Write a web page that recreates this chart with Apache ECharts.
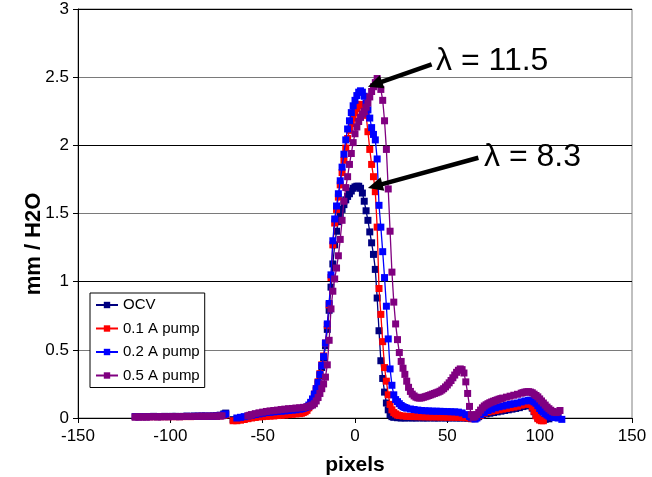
<!DOCTYPE html>
<html>
<head>
<meta charset="utf-8">
<script src="https://cdn.jsdelivr.net/npm/echarts@6/dist/echarts.min.js"></script>
<style>
  html, body { margin: 0; padding: 0; background: #fff; }
  #chart { width: 652px; height: 477px; }
</style>
</head>
<body>
<div id="chart"></div>
<script>
// Water thickness profiles across the channel, one series per pump current.
const seriesNames = ['OCV', '0.1 A pump', '0.2 A pump', '0.5 A pump'];
const seriesColors = ['#000080', '#ff0000', '#0000ff', '#800080'];

// [pixel position, mm of H2O]; null marks a break in the trace
const ocv = [
  [-119,0.010],[-117,0.010],[-115,0.011],[-113,0.010],[-111,0.011],[-109,0.012],[-107,0.010],[-105,0.011],[-103,0.012],[-101,0.011],
  [-99,0.012],[-97,0.012],[-95,0.011],[-93,0.012],[-91,0.013],[-89,0.012],[-87,0.014],[-85,0.013],[-83,0.014],[-81,0.014],
  [-79,0.013],[-77,0.015],[-75,0.017],[-73,0.021],[-71,0.030],[-70,0.036],[-68,null],
  [-66,-0.012],[-64,-0.014],[-62,-0.010],[-60,-0.006],[-58,0.000],[-56,0.005],[-54,0.010],[-52,0.014],[-50,0.018],[-48,0.020],
  [-46,0.022],[-44,0.025],[-42,0.027],[-40,0.030],[-38,0.032],[-36,0.035],[-34,0.037],[-32,0.040],[-30,0.045],[-29,0.050],
  [-28,0.055],[-27,0.062],[-26,0.070],[-25,0.085],[-24,0.100],[-23,0.128],[-22,0.160],[-21,0.200],[-20,0.250],[-19,0.310],
  [-18,0.370],[-17,0.440],[-16,0.530],[-15,0.650],[-14,0.790],[-13,0.960],[-12,1.130],[-11,1.270],[-10,1.370],[-9,1.440],
  [-8,1.490],[-7,1.530],[-6,1.565],[-5,1.600],[-4,1.625],[-3,1.645],[-2,1.665],[-1,1.685],[0,1.695],[1,1.700],
  [2,1.700],[3,1.685],[4,1.650],[5,1.590],[6,1.520],[7,1.450],[8,1.365],[9,1.285],[10,1.200],[11,1.090],
  [12,0.880],[13,0.640],[14,0.420],[15,0.290],[16,0.190],[17,0.110],[18,0.060],[19,0.025],[20,0.010],[21,0.005],
  [23,0.002],[25,0.000],[27,0.000],[29,0.001],[31,0.000],[33,0.000],[35,0.001],[37,0.000],[39,0.000],[41,0.001],
  [43,0.000],[45,0.000],[47,0.001],[49,0.000],[51,0.000],[53,0.001],[55,0.000],[57,0.000],[59,0.000],[61,-0.002],
  [63,-0.005],[65,0.000],[67,0.010],[69,0.020],[71,0.030],[73,0.035],[75,0.040],[77,0.045],[79,0.050],[81,0.055],
  [83,0.060],[85,0.065],[87,0.070],[89,0.076],[91,0.084],[93,0.090],[94,0.094],[95,0.090],[96,0.072],[97,0.046],
  [98,0.020],[99,0.002],[100,-0.010],[101,-0.015],[103,-0.010],[105,-0.006]
];

const pump01 = [
  [-119,0.008],[-117,0.008],[-115,0.009],[-113,0.008],[-111,0.009],[-109,0.010],[-107,0.009],[-105,0.009],[-103,0.010],[-101,0.009],
  [-99,0.010],[-97,0.010],[-95,0.009],[-93,0.010],[-91,0.011],[-89,0.010],[-87,0.011],[-85,0.011],[-83,0.012],[-81,0.012],
  [-79,0.011],[-77,0.012],[-75,0.013],[-73,0.015],[-71,0.020],[-70,0.024],[-68,null],
  [-66,-0.020],[-64,-0.020],[-62,-0.016],[-60,-0.011],[-58,-0.005],[-56,0.000],[-54,0.004],[-52,0.008],[-50,0.010],[-48,0.012],
  [-46,0.014],[-44,0.015],[-42,0.018],[-40,0.020],[-38,0.022],[-36,0.025],[-34,0.027],[-32,0.030],[-30,0.032],[-29,0.035],
  [-28,0.040],[-27,0.046],[-26,0.056],[-25,0.075],[-24,0.105],[-23,0.135],[-22,0.175],[-21,0.215],[-20,0.265],[-19,0.325],
  [-18,0.390],[-17,0.455],[-16,0.550],[-15,0.680],[-14,0.830],[-13,1.030],[-12,1.270],[-11,1.430],[-10,1.530],[-9,1.620],
  [-8,1.710],[-7,1.800],[-6,1.890],[-5,1.980],[-4,2.050],[-3,2.110],[-2,2.160],[-1,2.200],[0,2.240],[1,2.270],
  [2,2.290],[3,2.300],[4,2.300],[5,2.280],[6,2.220],[7,2.100],[8,1.970],[9,1.860],[10,1.770],[11,1.660],
  [12,1.400],[13,0.950],[14,0.760],[15,0.560],[16,0.370],[17,0.270],[18,0.170],[19,0.100],[20,0.060],[21,0.040],
  [22,0.030],[23,0.022],[24,0.018],[26,0.015],[28,0.012],[30,0.011],[32,0.010],[34,0.010],[36,0.009],[38,0.009],
  [40,0.008],[42,0.008],[44,0.008],[46,0.007],[48,0.007],[50,0.006],[52,0.006],[54,0.006],[56,0.005],[58,0.004],
  [60,0.002],[62,0.000],[64,-0.005],[66,0.005],[68,0.020],[70,0.035],[72,0.045],[74,0.050],[76,0.055],[78,0.060],
  [80,0.065],[82,0.070],[84,0.075],[86,0.080],[88,0.086],[90,0.094],[92,0.100],[94,0.105],[95,0.100],[96,0.080],
  [97,0.050],[98,0.016],[99,-0.005],[100,-0.015],[101,-0.020],[102,-0.020]
];

const pump02 = [
  [-119,0.009],[-117,0.009],[-115,0.010],[-113,0.009],[-111,0.010],[-109,0.011],[-107,0.010],[-105,0.010],[-103,0.011],[-101,0.010],
  [-99,0.011],[-97,0.011],[-95,0.010],[-93,0.011],[-91,0.012],[-89,0.011],[-87,0.012],[-85,0.012],[-83,0.013],[-81,0.013],
  [-79,0.012],[-77,0.013],[-75,0.015],[-73,0.018],[-71,0.025],[-70,0.030],[-68,null],
  [-64,0.000],[-62,0.005],[-60,0.010],[-58,0.015],[-56,0.020],[-54,0.025],[-52,0.030],[-50,0.035],[-48,0.040],[-46,0.042],
  [-44,0.045],[-42,0.048],[-40,0.050],[-38,0.052],[-36,0.055],[-34,0.058],[-32,0.060],[-30,0.065],[-29,0.068],[-28,0.072],
  [-27,0.076],[-26,0.082],[-25,0.095],[-24,0.115],[-23,0.140],[-22,0.175],[-21,0.215],[-20,0.260],[-19,0.320],[-18,0.385],
  [-17,0.450],[-16,0.550],[-15,0.690],[-14,0.840],[-13,1.050],[-12,1.300],[-11,1.460],[-10,1.555],[-9,1.645],[-8,1.740],
  [-7,1.840],[-6,1.935],[-5,2.040],[-4,2.120],[-3,2.180],[-2,2.240],[-1,2.290],[0,2.330],[1,2.365],[2,2.390],
  [3,2.400],[4,2.390],[5,2.360],[6,2.310],[7,2.260],[8,2.200],[9,2.130],[10,2.080],[11,2.040],[12,1.900],
  [13,1.560],[14,1.400],[15,1.220],[16,1.030],[17,0.820],[18,0.580],[19,0.360],[20,0.240],[21,0.170],[22,0.135],
  [23,0.120],[24,0.105],[25,0.092],[26,0.083],[27,0.077],[28,0.072],[30,0.066],[32,0.062],[34,0.058],[36,0.055],
  [38,0.053],[40,0.052],[42,0.050],[44,0.050],[46,0.049],[48,0.048],[50,0.047],[52,0.046],[54,0.045],[56,0.043],
  [58,0.037],[60,0.025],[62,0.012],[63,0.005],[64,0.000],[65,-0.008],[66,0.000],[68,0.025],[70,0.040],[72,0.055],
  [74,0.065],[76,0.075],[78,0.082],[80,0.088],[82,0.094],[84,0.100],[86,0.105],[88,0.110],[90,0.118],[92,0.125],
  [94,0.130],[95,0.130],[96,0.125],[97,0.118],[98,0.108],[99,0.090],[100,0.070],[101,0.055],[102,0.044],[103,0.032],
  [104,0.022],[105,0.014],[106,0.008],[108,0.003],[110,0.000],[112,-0.010]
];

const pump05 = [
  [-119,0.008],[-117,0.009],[-115,0.008],[-113,0.009],[-111,0.009],[-109,0.010],[-107,0.009],[-105,0.010],[-103,0.010],[-101,0.010],
  [-99,0.011],[-97,0.010],[-95,0.011],[-93,0.011],[-91,0.012],[-89,0.011],[-87,0.012],[-85,0.012],[-83,0.013],[-81,0.012],
  [-79,0.013],[-77,0.013],[-75,0.014],[-73,0.015],[-72,0.016],[-65,null],
  [-58,0.015],[-57,0.020],[-56,0.025],[-54,0.032],[-52,0.038],[-50,0.043],[-48,0.048],[-46,0.052],[-44,0.055],[-42,0.058],
  [-40,0.062],[-38,0.065],[-36,0.068],[-34,0.070],[-32,0.073],[-30,0.075],[-28,0.078],[-26,0.082],[-25,0.085],[-24,0.090],
  [-23,0.095],[-22,0.105],[-21,0.125],[-20,0.150],[-19,0.180],[-18,0.215],[-17,0.250],[-16,0.300],[-15,0.390],[-14,0.570],
  [-13,0.800],[-12,0.930],[-11,1.020],[-10,1.100],[-9,1.190],[-8,1.310],[-7,1.450],[-6,1.590],[-5,1.690],[-4,1.770],
  [-3,1.860],[-2,1.940],[-1,2.020],[0,2.085],[1,2.135],[2,2.175],[3,2.205],[4,2.230],[5,2.250],[6,2.280],
  [7,2.310],[8,2.355],[9,2.395],[10,2.430],[11,2.460],[12,2.490],[13,2.450],[14,2.410],[15,2.330],[16,2.180],
  [17,1.970],[18,1.680],[19,1.370],[20,1.070],[21,0.850],[22,0.690],[23,0.575],[24,0.480],[25,0.415],[26,0.365],
  [27,0.320],[28,0.270],[29,0.225],[30,0.195],[31,0.175],[32,0.162],[33,0.153],[34,0.148],[35,0.146],[36,0.148],
  [37,0.152],[38,0.156],[39,0.160],[40,0.165],[41,0.170],[42,0.175],[43,0.180],[44,0.185],[45,0.190],[46,0.196],
  [47,0.205],[48,0.215],[49,0.228],[50,0.242],[51,0.258],[52,0.275],[53,0.295],[54,0.315],[55,0.335],[56,0.350],
  [57,0.360],[58,0.355],[59,0.330],[60,0.265],[61,0.180],[62,0.085],[63,0.025],[64,0.005],[65,0.012],[66,0.025],
  [67,0.040],[68,0.058],[69,0.075],[70,0.088],[71,0.097],[72,0.105],[73,0.112],[74,0.118],[75,0.123],[76,0.128],
  [77,0.133],[78,0.138],[79,0.142],[80,0.146],[82,0.153],[84,0.160],[86,0.167],[88,0.174],[90,0.182],[91,0.186],
  [92,0.190],[93,0.192],[94,0.193],[95,0.190],[96,0.185],[97,0.175],[98,0.165],[99,0.155],[100,0.140],[101,0.125],
  [102,0.110],[103,0.095],[104,0.080],[105,0.068],[106,0.057],[107,0.048],[108,0.042],[109,0.040],[110,0.045],[111,0.055]
];

// Axis ranges: [min, max, step]
const xRange = [-150, 150, 50];
const yRange = [0, 3, 0.5];

// Callout arrows, [tail, tip] in data coordinates, and their captions
const calloutArrows = [
  [[41.5, 2.594], [7.0, 2.430]],
  [[66.8, 1.909], [7.0, 1.687]]
];
const calloutTexts = ['λ = 11.5', 'λ = 8.3'];

const FONT = '"Liberation Sans", Arial, Helvetica, sans-serif';
const traces = [ocv, pump01, pump02, pump05];

const chart = echarts.init(document.getElementById('chart'), null, { renderer: 'canvas' });

const series = traces.map((pts, i) => ({
  name: seriesNames[i],
  type: 'line',
  data: pts.map(p => [p[0], p[1] === null ? '-' : p[1]]),
  connectNulls: false,
  symbol: 'rect',
  symbolSize: 7,
  showAllSymbol: true,
  clip: false,
  color: seriesColors[i],
  lineStyle: { width: 1.3, color: seriesColors[i] },
  itemStyle: { color: seriesColors[i] },
  emphasis: { disabled: true },
  z: 2 + i
}));

const staticGraphics = [
  {
    type: 'text', x: 34, y: 244, rotation: Math.PI / 2,
    style: { text: 'mm / H2O', fill: '#000', font: 'bold 22px ' + FONT, align: 'center', verticalAlign: 'middle' }
  },
  {
    type: 'text', x: 355, y: 465,
    style: { text: 'pixels', fill: '#000', font: 'bold 21px ' + FONT, align: 'center', verticalAlign: 'middle' }
  },
  {
    type: 'text', x: 436, y: 61, z: 10,
    style: { text: calloutTexts[0], fill: '#000', font: '32px ' + FONT, align: 'left', verticalAlign: 'middle' }
  },
  {
    type: 'text', x: 484, y: 157.5, z: 10,
    style: { text: calloutTexts[1], fill: '#000', font: '32px ' + FONT, align: 'left', verticalAlign: 'middle' }
  }
];

chart.setOption({
  animation: false,
  backgroundColor: '#fff',
  grid: {
    left: 78, right: 20, top: 9, bottom: 59,
    show: true, borderColor: '#808080', borderWidth: 1, backgroundColor: 'transparent'
  },
  xAxis: {
    type: 'value',
    min: xRange[0], max: xRange[1], interval: xRange[2],
    axisLine: { show: true, onZero: false, lineStyle: { color: '#000', width: 1 } },
    axisTick: { show: true, inside: false, length: 5, lineStyle: { color: '#000' } },
    axisLabel: { color: '#000', fontSize: 17, fontFamily: FONT, margin: 10 },
    splitLine: { show: false }
  },
  yAxis: {
    type: 'value',
    min: yRange[0], max: yRange[1], interval: yRange[2],
    axisLine: { show: true, onZero: false, lineStyle: { color: '#000', width: 1 } },
    axisTick: { show: true, inside: false, length: 5, lineStyle: { color: '#000' } },
    axisLabel: { color: '#000', fontSize: 17, fontFamily: FONT, margin: 9 },
    splitLine: { show: true, lineStyle: { color: ['#000', '#7a7a7a'], width: 1 } }
  },
  legend: {
    data: seriesNames,
    orient: 'vertical',
    left: 90, top: 293,
    padding: [4, 5, 4, 5],
    itemGap: 7.5,
    itemWidth: 22,
    itemHeight: 8,
    backgroundColor: '#fff',
    borderColor: '#000',
    borderWidth: 1,
    borderRadius: 0,
    selectedMode: false,
    textStyle: { color: '#000', fontSize: 15, fontFamily: FONT, lineHeight: 16 }
  },
  graphic: staticGraphics,
  series: series
});

// Callout arrows: shaft plus a solid head, placed through the grid's own scales
const HEAD_LEN = 15, HEAD_HALF = 7;
const arrowGraphics = [];
calloutArrows.forEach(([from, to]) => {
  const a = chart.convertToPixel({ gridIndex: 0 }, from);
  const b = chart.convertToPixel({ gridIndex: 0 }, to);
  const dx = b[0] - a[0], dy = b[1] - a[1];
  const len = Math.hypot(dx, dy);
  const ux = dx / len, uy = dy / len;
  const bx = b[0] - ux * HEAD_LEN, by = b[1] - uy * HEAD_LEN;
  arrowGraphics.push({
    type: 'line', z: 20,
    shape: { x1: a[0], y1: a[1], x2: bx + ux * 2, y2: by + uy * 2 },
    style: { stroke: '#000', lineWidth: 4.5 }
  });
  arrowGraphics.push({
    type: 'polygon', z: 20,
    shape: { points: [
      [b[0], b[1]],
      [bx - uy * HEAD_HALF, by + ux * HEAD_HALF],
      [bx + uy * HEAD_HALF, by - ux * HEAD_HALF]
    ] },
    style: { fill: '#000' }
  });
});
chart.setOption({ graphic: staticGraphics.concat(arrowGraphics) });
</script>
</body>
</html>
